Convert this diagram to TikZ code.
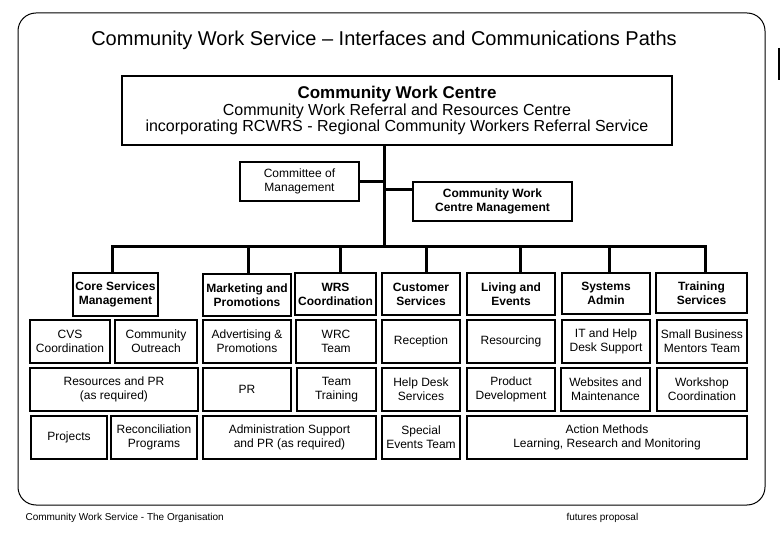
\documentclass[tikz,border=0pt]{standalone}
\usepackage{fontspec}
\setmainfont{Liberation Sans}
\begin{document}
\begin{tikzpicture}[x=1pt,y=-1pt,
  bx/.style={draw,line width=1.8pt,inner sep=0pt,align=center,font=\fontsize{12}{14}\selectfont},
  hd/.style={bx,font=\bfseries\fontsize{12}{14}\selectfont},
  conn/.style={line width=3pt}]
\useasboundingbox (0,0) rectangle (780,540);
\draw[line width=1pt,rounded corners=18pt] (18,13) rectangle (765,505);
\draw[line width=1.2pt] (779,48) -- (779,80);
\node[font=\fontsize{20}{22}\selectfont] (title) at (384,40) {Community Work Service – Interfaces and Communications Paths};
\newcommand{\bxat}[6]{\node[#1,minimum width=#4-#2,minimum height=#5-#3] (#6) at ({(#2+#4)/2},{(#3+#5)/2})}
\bxat{bx}{122}{76}{672}{145}{cwc} {{\bfseries\fontsize{17}{20}\selectfont Community Work Centre}\\[1pt]\fontsize{16}{20}\selectfont Community Work Referral and Resources Centre\\\fontsize{16}{20}\selectfont incorporating RCWRS - Regional Community Workers Referral Service};
\bxat{bx}{240}{162}{359}{201}{com}{Committee of\\Management};
\bxat{hd}{413}{182}{572}{221}{mgmt}{Community Work\\Centre Management};
% row 1
\bxat{hd}{73}{273}{158}{316}{core}{Core Services\\Management};
\bxat{hd}{203}{274}{291}{316}{mkt}{Marketing and\\Promotions};
\bxat{hd}{295}{273}{376}{315}{wrs}{WRS\\Coordination};
\bxat{hd}{382}{273}{460}{315}{cust}{Customer\\Services};
\bxat{hd}{467}{273}{555}{315}{liv}{Living and\\Events};
\bxat{hd}{562}{273}{650}{314}{sys}{Systems\\Admin};
\bxat{hd}{656}{273}{747}{313}{trn}{Training\\Services};
% row 2
\bxat{bx}{30}{320}{110}{363}{cvs}{CVS\\Coordination};
\bxat{bx}{115}{320}{197}{363}{out}{Community\\Outreach};
\bxat{bx}{203}{320}{291}{363}{adv}{Advertising \&\\Promotions};
\bxat{bx}{296}{320}{376}{363}{wrc}{WRC\\Team};
\bxat{bx}{382}{320}{460}{363}{rec}{Reception};
\bxat{bx}{467}{320}{555}{363}{res}{Resourcing};
\bxat{bx}{562}{320}{650}{363}{it}{IT and Help\\Desk Support};
\bxat{bx}{657}{320}{747}{363}{sbm}{Small Business\\Mentors Team};
% row 3
\bxat{bx}{30}{368}{198}{411}{rpr}{Resources and PR\\(as required)};
\bxat{bx}{203}{368}{291}{411}{pr}{PR};
\bxat{bx}{297}{368}{376}{411}{tt}{Team\\Training};
\bxat{bx}{382}{368}{460}{411}{hds}{Help Desk\\Services};
\bxat{bx}{467}{368}{555}{411}{pd}{Product\\Development};
\bxat{bx}{561}{368}{650}{411}{web}{Websites and\\Maintenance};
\bxat{bx}{657}{368}{747}{411}{ws}{Workshop\\Coordination};
% row 4
\bxat{bx}{31}{416}{107}{459}{proj}{Projects};
\bxat{bx}{111}{416}{197}{459}{recon}{Reconciliation\\Programs};
\bxat{bx}{203}{416}{376}{459}{adm}{Administration Support\\and PR (as required)};
\bxat{bx}{382}{416}{460}{459}{spe}{Special\\Events Team};
\bxat{bx}{467}{416}{747}{459}{act}{Action Methods\\Learning, Research and Monitoring};
% connectors
\coordinate (t1) at (384,190);
\coordinate (t2) at (384,247);
\draw[conn] (cwc.south -| t1) -- (t2);
\draw[conn] (com.east) -- (com.east -| t1);
\draw[conn] (t1) -- (t1 -| mgmt.west);
\draw[conn] (core.north -| 112,0) -- (112,247) -- (705,247) -- (trn.north -| 705,0);
\foreach \n/\x in {mkt/248,wrs/340,cust/426,liv/520,sys/609}
  \draw[conn] (\x,247) -- (\n.north -| \x,0);
\node[anchor=west,font=\fontsize{10}{12}\selectfont] (f1) at (22,518) {Community Work Service - The Organisation};
\node[anchor=west,font=\fontsize{10}{12}\selectfont] (f2) at (563,518) {futures proposal};
\end{tikzpicture}
\end{document}
